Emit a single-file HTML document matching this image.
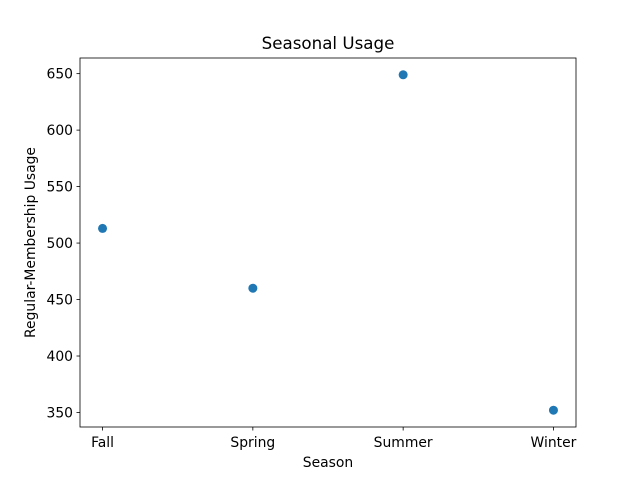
<!DOCTYPE html>
<html><head><meta charset="utf-8"><style>
body{margin:0;background:#fff;}
svg{font-family:"DejaVu Sans","Liberation Sans",sans-serif;}
</style></head><body>
<svg id="chart" width="640" height="480" viewBox="0 0 640 480">
<rect x="0" y="0" width="640" height="480" fill="#fff"/>
<text x="328" y="49" text-anchor="middle" font-size="16.7" fill="#000">Seasonal Usage</text>
<g id="plot"></g>
<text x="328" y="467" text-anchor="middle" font-size="13.9" fill="#000">Season</text>
<text transform="translate(35,242.5) rotate(-90)" text-anchor="middle" font-size="13.9" fill="#000">Regular-Membership Usage</text>
</svg>
<script>
const categories = ["Fall","Spring","Summer","Winter"];
const values = [513, 460, 649, 352];
const yTicks = [350, 400, 450, 500, 550, 600, 650];

const L=80,R=576,T=58,B=427;
const vmin=Math.min(...values), vmax=Math.max(...values), pad=(vmax-vmin)*0.05;
const y0=vmin-pad, y1=vmax+pad;
const xs=i=>L+(i+0.15)/(categories.length-1+0.3)*(R-L);
const ys=v=>B-(v-y0)/(y1-y0)*(B-T);
const g=document.getElementById('plot');
const NS="http://www.w3.org/2000/svg";
function mk(t,a){const e=document.createElementNS(NS,t);for(const k in a)e.setAttribute(k,a[k]);g.appendChild(e);return e;}
yTicks.forEach(v=>{const y=ys(v);
 const l=mk('line',{x1:L-3.5,x2:L,y1:y,y2:y,stroke:'#000','stroke-width':0.8});
 
 
 const t=mk('text',{x:L-7,y:y+5,'text-anchor':'end','font-size':13.9});
 t.textContent=v;
 
 
});
categories.forEach((c,i)=>{const x=xs(i);
 const l=mk('line',{x1:x,x2:x,y1:B,y2:B+3.5,stroke:'#000','stroke-width':0.8});
 
 
 const t=mk('text',{x:x,y:B+20,'text-anchor':'middle','font-size':13.9});
 t.textContent=c;
 
 
});
values.forEach((v,i)=>{
 const p=mk('circle',{cx:xs(i),cy:ys(v),r:4.5,fill:'#1f77b4'});
 
 
});
const f=mk('rect',{x:L,y:T,width:R-L,height:B-T,fill:'none',stroke:'#000','stroke-width':0.8});


</script>
</body></html>
